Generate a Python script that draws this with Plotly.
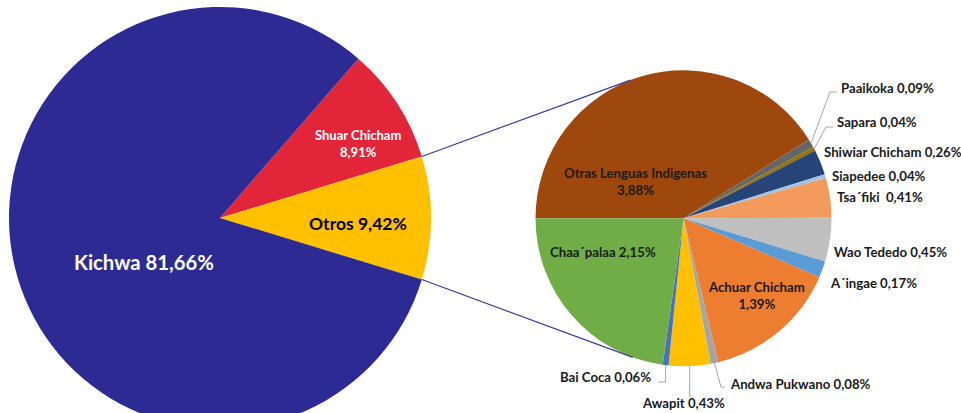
import numpy as np
import plotly.graph_objects as go

# ---------------- data ----------------
main_labels = ["Shuar Chicham", "Otros", "Kichwa"]
main_values = [8.91, 9.42, 81.66]
main_colors = ["#E3253A", "#FFC000", "#2E2A94"]

sub_labels = ["Otras Lenguas Indigenas", "Paaikoka", "Sapara", "Shiwiar Chicham",
              "Siapedee", "Tsa´fiki ", "Wao Tededo", "A´ingae", "Achuar Chicham",
              "Andwa Pukwano", "Awapit", "Bai Coca", "Chaa´palaa"]
sub_values = [3.88, 0.09, 0.04, 0.26, 0.04, 0.41, 0.45, 0.17, 1.39, 0.08, 0.43, 0.06, 2.15]
sub_colors = ["#9E480E", "#666666", "#997300", "#264478", "#9DC3E6", "#F29B5D",
              "#BFBFBF", "#5B9BD5", "#ED7D31", "#A5A5A5", "#FFC000", "#4472C4", "#70AD47"]

# ---------------- layout geometry ----------------
W, H = 961, 430          # the window shows the top 413 px; the big pie runs past the bottom
FONT = "Lato"


def px(x):
    return x / W


def py(y):
    return 1 - y / H


def pct(v):
    return f"{v:.2f}".replace(".", ",") + "%"


# left (main) pie
Lcx, Lcy, Lr = 220.0, 218.0, 211.0
# right (detail) pie
Rcx, Rcy, Rr = 683.5, 218.3, 148.0

m_total = sum(main_values)
s_total = sum(sub_values)
otros_half = 180.0 * main_values[1] / m_total  # half angle of "Otros" (deg)
main_rotation = 90.0 - otros_half - 360.0 * main_values[0] / m_total

fig = go.Figure()
fig.add_trace(go.Pie(
    labels=main_labels, values=main_values, sort=False, direction="clockwise",
    rotation=main_rotation, marker=dict(colors=main_colors, line=dict(width=0)),
    textinfo="none", hoverinfo="label+value", showlegend=False,
    domain=dict(x=[px(Lcx - Lr), px(Lcx + Lr)], y=[py(Lcy + Lr), py(Lcy - Lr)]),
))
fig.add_trace(go.Pie(
    labels=sub_labels, values=sub_values, sort=False, direction="clockwise",
    rotation=270, marker=dict(colors=sub_colors, line=dict(width=0)),
    textinfo="none", hoverinfo="label+value", showlegend=False,
    domain=dict(x=[px(Rcx - Rr), px(Rcx + Rr)], y=[py(Rcy + Rr), py(Rcy - Rr)]),
))

shapes = []
annotations = []

# connector lines between the pies
conn_color = "#3A3A9E"
for sgn, ang_r in ((1, 111.0), (-1, -110.0)):
    a = np.radians(sgn * otros_half)
    x0, y0 = Lcx + Lr * np.cos(a), Lcy - Lr * np.sin(a)
    b = np.radians(ang_r)
    x1, y1 = Rcx + Rr * np.cos(b), Rcy - Rr * np.sin(b)
    shapes.append(dict(type="line", xref="paper", yref="paper",
                       x0=px(x0), y0=py(y0), x1=px(x1), y1=py(y1),
                       line=dict(color=conn_color, width=1.2)))


def sub_edge(i):
    cum = sum(sub_values[:i]) + sub_values[i] / 2
    ang = np.radians(180.0 - 360.0 * cum / s_total)
    return Rcx + Rr * np.cos(ang), Rcy - Rr * np.sin(ang)


# main pie labels
main_text_pos = {
    "Kichwa": (143.5, 262, 20.3, "white"),
    "Shuar Chicham": (358, 143.5, 13, "white"),
    "Otros": (358, 223, 17.5, "black"),
}
for lab, val in zip(main_labels, main_values):
    x, y, fs, col = main_text_pos[lab]
    txt = f"{lab}<br>{pct(val)}" if lab == "Shuar Chicham" else f"{lab} {pct(val)}"
    annotations.append(dict(x=px(x), y=py(y), xref="paper", yref="paper", text=txt,
                            showarrow=False, xanchor="center", yanchor="middle",
                            font=dict(family=FONT, size=fs, color=col, weight="bold")))

# detail pie labels: (x, y, anchor, two_lines, leader polyline after edge point)
sub_text_pos = {
    "Otras Lenguas Indigenas": (635, 181, "center", True, None),
    "Chaa´palaa": (603, 252, "center", False, None),
    "Achuar Chicham": (756, 295, "center", True, None),
    "Paaikoka": (839, 88, "left", False, [(830, 92), (837, 92)]),
    "Sapara": (835, 122, "left", False, [(826, 127), (833, 127)]),
    "Shiwiar Chicham": (822, 152, "left", False, None),
    "Siapedee": (830, 176, "left", False, None),
    "Tsa´fiki ": (835, 197, "left", False, None),
    "Wao Tededo": (832, 252, "left", False, None),
    "A´ingae": (828, 283, "left", False, None),
    "Andwa Pukwano": (728, 384, "left", False, [(721, 387), (725, 387)]),
    "Awapit": (683, 403, "center", False, [("edge", 397)]),
    "Bai Coca": (653, 377, "right", False, [("edge", 382), (658, 382)]),
}
for i, (lab, val) in enumerate(zip(sub_labels, sub_values)):
    x, y, anc, two, leader = sub_text_pos[lab]
    txt = f"{lab}<br>{pct(val)}" if two else f"{lab} {pct(val)}"
    annotations.append(dict(x=px(x), y=py(y), xref="paper", yref="paper", text=txt,
                            showarrow=False, xanchor=anc, yanchor="middle",
                            font=dict(family=FONT, size=13.2, color="#1A1A1A", weight="bold")))
    if leader:
        ex, ey = sub_edge(i)
        pts = [(ex, ey)]
        for (lx, ly) in leader:
            if lx == "edge":
                lx = ex
            pts.append((lx, ly))
        path = "M " + " L ".join(f"{px(a):.5f},{py(b):.5f}" for a, b in pts)
        shapes.append(dict(type="path", xref="paper", yref="paper", path=path,
                           line=dict(color="#A6A6A6", width=1)))

fig.update_layout(
    width=W, height=H, margin=dict(l=0, r=0, t=0, b=0),
    paper_bgcolor="white", plot_bgcolor="white",
    shapes=shapes, annotations=annotations, showlegend=False,
    font=dict(family=FONT),
)

fig.write_html("out.html", config={"displayModeBar": False},
               post_script="document.body.style.margin='0';document.body.style.overflow='hidden';")
